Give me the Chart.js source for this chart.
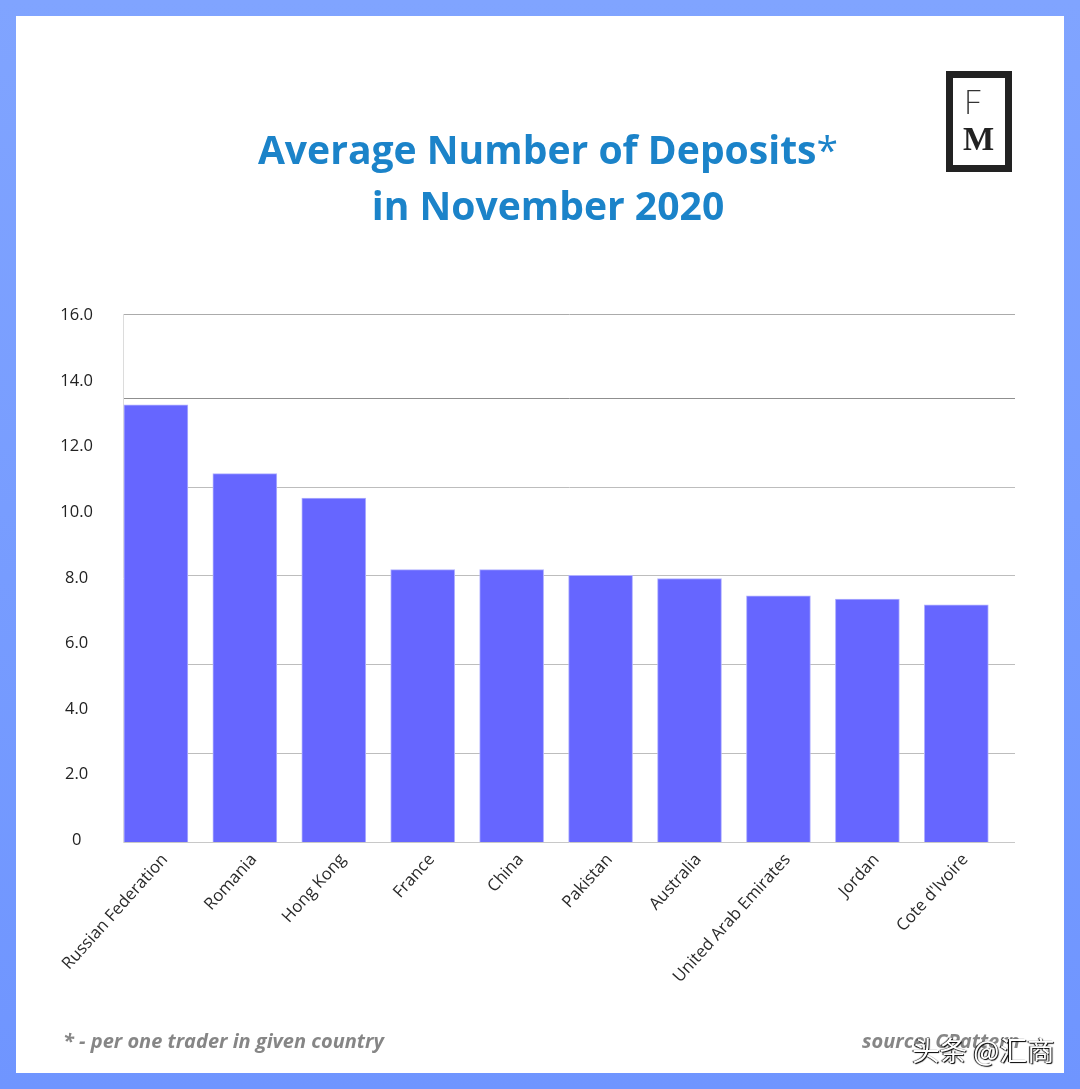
<!DOCTYPE html>
<html>
<head>
<meta charset="utf-8">
<title>Average Number of Deposits</title>
<script src="https://cdn.jsdelivr.net/npm/chart.js@4/dist/chart.umd.min.js"></script>
<style>
  html, body { margin: 0; padding: 0; }
  body { width: 1080px; height: 1089px; position: relative; overflow: hidden; background: linear-gradient(180deg, #80a4ff, #6f95ff); font-family: "Open Sans", sans-serif; }
  #sheet { position: absolute; left: 16px; top: 16px; width: 1048px; height: 1057px; background: #fff; }
  #chartBox { position: absolute; left: 0; top: 0; width: 1080px; height: 1089px; }
  .txt { position: absolute; white-space: nowrap; }
  #title { left: 0; width: 1096px; top: 121px; text-align: center; color: #1b83c9; font-size: 39.1px; font-weight: 700; line-height: 56px; }
  #title span { font-weight: 400; }
  #note, #source { top: 1027px; color: #868686; font-size: 20px; font-weight: 700; font-style: italic; }
  #note { left: 63px; }
  #source { left: 862px; }
  #mark { left: 912px; top: 1029px; color: #fff; font-family: "Noto Sans CJK SC"; font-size: 27.6px; text-shadow: 1px 1px 1px #000, -1px 0 1px #000; }
  #logo { position: absolute; left: 946px; top: 71px; width: 52px; height: 87px; border: 7px solid #222; }
  #logoF { left: 11px; top: 6px; color: #333; font-family: Inter; font-weight: 200; font-size: 32px; line-height: 38px; }
  #logoM { left: 10px; top: 40px; color: #222; font-family: "Liberation Serif"; font-weight: 700; font-size: 33px; line-height: 42px; }
</style>
</head>
<body>
<div id="sheet"></div>
<div id="chartBox"><canvas id="depositsChart" width="1080" height="1089"></canvas></div>
<div class="txt" id="title">Average Number of Deposits<span>*</span><br>in November 2020</div>
<div id="logo"><div class="txt" id="logoF">F</div><div class="txt" id="logoM">M</div></div>
<div class="txt" id="note">* - per one trader in given country</div>
<div class="txt" id="source">source: CPattern</div>
<div class="txt" id="mark">头条 @汇商</div>

<script>
const countries = ['Russian Federation', 'Romania', 'Hong Kong', 'France', 'China', 'Pakistan', 'Australia', 'United Arab Emirates', 'Jordan', "Cote d'Ivoire"];
const deposits = [13.28, 11.18, 10.43, 8.25, 8.25, 8.08, 7.98, 7.45, 7.35, 7.18];
const tickValues = [0, 2, 4, 6, 8, 10, 12, 14, 16];
const tickLabels = ['0', '2.0', '4.0', '6.0', '8.0', '10.0', '12.0', '14.0', '16.0'];
// the original's grid does not line up with its labels, it has its own spacing
const gridValues = [0, 1, 2, 3, 4, 5, 5.95];
const gridColors = ['#c8c8c8', '#bdbdbd', '#bdbdbd', '#bdbdbd', '#bdbdbd', '#8f8f8f', '#ababab'];

const ctx = document.getElementById('depositsChart').getContext('2d');
new Chart(ctx, {
  type: 'bar',
  data: {
    datasets: [{
      data: deposits.map((v, i) => ({ x: i, y: v })),
      backgroundColor: '#6666ff',
      borderColor: '#b0b0ff',
      borderWidth: 1,
      barThickness: 64,
      base: -0.06,
      yAxisID: 'y'
    }]
  },
  options: {
    responsive: false,
    animation: false,
    events: [],
    layout: { padding: { top: 314, right: 65, bottom: 0, left: 0 } },
    plugins: { legend: { display: false }, title: { display: false }, tooltip: { enabled: false } },
    scales: {
      x: {
        type: 'linear',
        offset: false,
        min: -0.37,
        max: 9.66,
        afterBuildTicks: s => { s.ticks = countries.map((c, i) => ({ value: i })); },
        afterFit: s => { s.height = 247; },
        grid: { display: false, offset: false },
        border: { display: false },
        ticks: {
          autoSkip: false,
          minRotation: 48,
          maxRotation: 48,
          padding: 0,
          labelOffset: 9,
          color: '#2a2a2a',
          font: { family: 'Open Sans', size: 16.7 },
          callback: v => countries[v]
        }
      },
      y: {
        position: 'left',
        weight: 1,
        min: -0.06,
        max: 16.05,
        afterBuildTicks: s => { s.ticks = tickValues.map(v => ({ value: v })); },
        afterFit: s => { s.width = 123; },
        grid: { display: false },
        border: { display: false },
        ticks: {
          crossAlign: 'center',
          padding: 22,
          color: '#222',
          font: { family: 'Open Sans', size: 16.5 },
          callback: v => tickLabels[tickValues.indexOf(v)]
        }
      },
      yGrid: {
        position: 'left',
        weight: 0,
        min: 0,
        max: 5.95,
        afterBuildTicks: s => { s.ticks = gridValues.map(v => ({ value: v })); },
        afterFit: s => { s.width = 0; },
        grid: {
          drawTicks: false,
          lineWidth: 1,
          color: c => gridColors[c.index]
        },
        border: { display: true, color: '#dcdcdc' },
        ticks: { display: false }
      }
    }
  }
});
</script>
</body>
</html>
